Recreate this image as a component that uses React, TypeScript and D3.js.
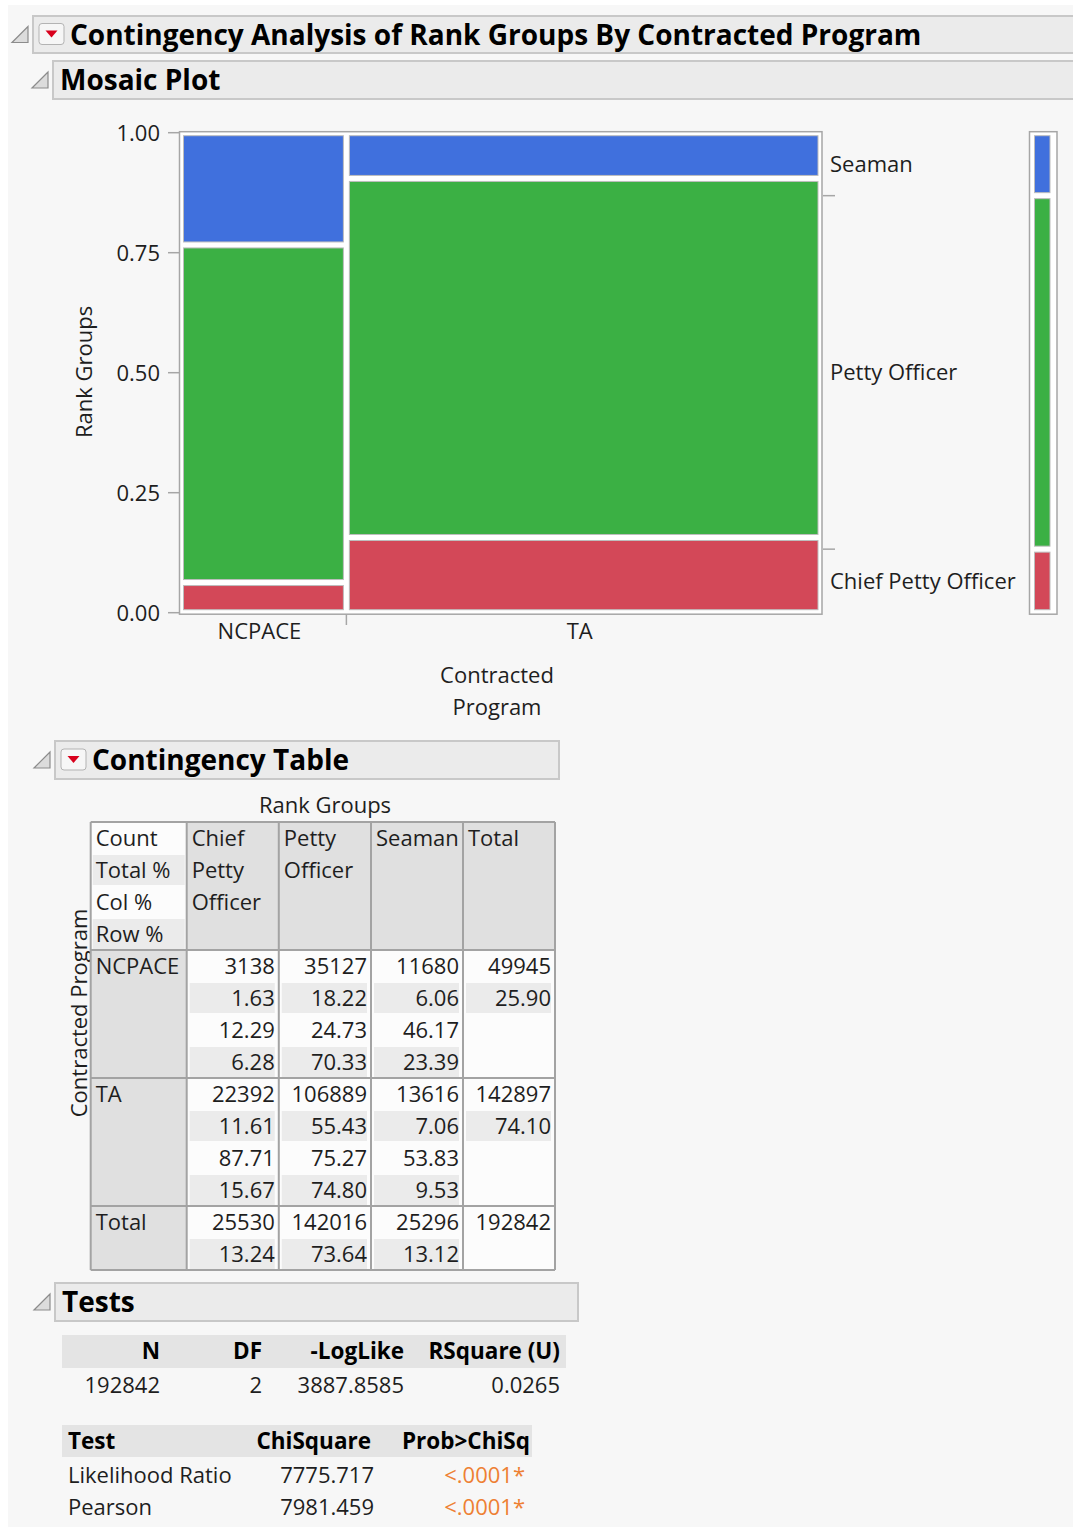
import React, { useRef, useEffect } from "react";
import * as d3 from "d3";

const programs = ["NCPACE", "TA"];
const rankGroups = ["Chief Petty Officer", "Petty Officer", "Seaman"];
const ncpaceCounts = [3138, 35127, 11680];
const taCounts = [22392, 106889, 13616];
const rankTotals = [25530, 142016, 25296];
const programTotals = [49945, 142897];
const grandTotal = 192842;
const yTicks = [0, 0.25, 0.5, 0.75, 1];
const rankColors = ["#d34858", "#3bb044", "#4070dd"];

const statLabels = ["Count", "Total %", "Col %", "Row %"];
const colHeads = [["Chief", "Petty", "Officer"], ["Petty", "Officer"], ["Seaman"], ["Total"]];
const ncpaceTotalPct = ["1.63", "18.22", "6.06", "25.90"];
const ncpaceColPct = ["12.29", "24.73", "46.17", ""];
const ncpaceRowPct = ["6.28", "70.33", "23.39", ""];
const taTotalPct = ["11.61", "55.43", "7.06", "74.10"];
const taColPct = ["87.71", "75.27", "53.83", ""];
const taRowPct = ["15.67", "74.80", "9.53", ""];
const totalRowPct = ["13.24", "73.64", "13.12", ""];

const testHeads = ["N", "DF", "-LogLike", "RSquare (U)"];
const testValues = ["192842", "2", "3887.8585", "0.0265"];
const chiHeads = ["Test", "ChiSquare", "Prob>ChiSq"];
const chiTests = ["Likelihood Ratio", "Pearson"];
const chiSquare = ["7775.717", "7981.459"];
const chiProb = ["<.0001*", "<.0001*"];

const FONT = "'Open Sans', 'Noto Sans', sans-serif";
const TXT = "#1e1e1e";
const BODY = 22;
const HEAD = 28;
const BOLD = 22.5;

const App: React.FC = () => {
  const svgRef = useRef<SVGSVGElement | null>(null);

  const drawChart = () => {
    if (!svgRef.current) return;
    d3.select(svgRef.current).selectAll("*").remove();

    const root = d3.select(svgRef.current).append("g");
    root.append("rect").attr("width", 1073).attr("height", 1529).attr("fill", "#ffffff");
    root.append("rect").attr("x", 8).attr("y", 5).attr("width", 1065).attr("height", 1522).attr("fill", "#f7f7f7");

    const text = (g: any, x: number, y: number, s: string, opts: any = {}) =>
      g.append("text")
        .attr("x", x)
        .attr("y", y + (opts.size || BODY) * 0.36)
        .attr("font-family", FONT)
        .attr("font-size", opts.size || BODY)
        .attr("font-weight", opts.bold ? "bold" : "normal")
        .attr("text-anchor", opts.anchor || "start")
        .attr("fill", opts.fill || TXT)
        .text(s);

    // outline header with disclosure triangle
    const header = (x0: number, x1: number, y0: number, y1: number, title: string, button: boolean) => {
      const g = root.append("g");
      const yc = (y0 + y1) / 2;
      g.append("rect").attr("x", x0).attr("y", y0).attr("width", x1 - x0).attr("height", y1 - y0)
        .attr("fill", "#ebebeb").attr("stroke", "#c8c8c8").attr("stroke-width", 2);
      g.append("path")
        .attr("d", `M${x0 - 5},${yc - 8}L${x0 - 5},${yc + 8}L${x0 - 21},${yc + 8}Z`)
        .attr("fill", "#dcdcdc").attr("stroke", "#8c8c8c").attr("stroke-width", 1.2);
      let tx = x0 + 7;
      if (button) {
        g.append("rect").attr("x", x0 + 6).attr("y", yc - 11).attr("width", 25).attr("height", 21).attr("rx", 3)
          .attr("fill", "#f6f6f6").attr("stroke", "#b3b3b3");
        const bx = x0 + 18.5;
        g.append("path").attr("d", `M${bx - 6},${yc - 4}L${bx + 6},${yc - 4}L${bx},${yc + 3}Z`).attr("fill", "#d8001c");
        tx = x0 + 37;
      }
      text(g, tx, yc, title, { size: HEAD, bold: true, fill: "#000" });
    };

    header(33, 1080, 16, 53, "Contingency Analysis of Rank Groups By Contracted Program", true);
    header(53, 1080, 61, 99, "Mosaic Plot", false);

    // ---------- mosaic plot ----------
    const plot = root.append("g");
    const y = d3.scaleLinear().domain([0, 1]).range([612.7, 132.7]);
    const x = d3.scaleLinear().domain([0, grandTotal]).range([180.5, 821]);
    const fmt = d3.format(".2f");

    plot.append("rect").attr("x", 179.5).attr("y", 131.7).attr("width", 642.5).attr("height", 482.5)
      .attr("fill", "#ffffff").attr("stroke", "#a6a6a6").attr("stroke-width", 1.5);

    const counts = [ncpaceCounts, taCounts];
    let cumProg = 0;
    counts.forEach((row, i) => {
      const x0 = x(cumProg);
      const x1 = x(cumProg + programTotals[i]);
      let cum = 0;
      row.forEach((c, j) => {
        const f0 = cum / programTotals[i];
        cum += c;
        const f1 = cum / programTotals[i];
        plot.append("rect")
          .attr("x", x0 + 3).attr("width", x1 - x0 - 6)
          .attr("y", y(f1) + 3).attr("height", y(f0) - y(f1) - 6)
          .attr("fill", rankColors[j]).attr("stroke", "#bdbdbd").attr("stroke-width", 1);
      });
      text(plot, (x0 + x1) / 2 - 4, 631, programs[i], { anchor: "middle" });
      cumProg += programTotals[i];
      if (i < counts.length - 1) {
        plot.append("line").attr("x1", x1).attr("x2", x1).attr("y1", 614).attr("y2", 625)
          .attr("stroke", "#a6a6a6").attr("stroke-width", 1.5);
      }
    });

    yTicks.forEach((t) => {
      plot.append("line").attr("x1", 168).attr("x2", 179).attr("y1", y(t)).attr("y2", y(t))
        .attr("stroke", "#a6a6a6").attr("stroke-width", 1.5);
      text(plot, 160, y(t), fmt(t), { anchor: "end" });
    });

    plot.append("text")
      .attr("transform", "translate(92,372) rotate(-90)")
      .attr("text-anchor", "middle").attr("font-family", FONT).attr("font-size", BODY).attr("fill", TXT)
      .text("Rank Groups");
    text(plot, 497, 675, "Contracted", { anchor: "middle" });
    text(plot, 497, 707, "Program", { anchor: "middle" });

    // marginal bar and rank labels
    plot.append("rect").attr("x", 1029.5).attr("y", 131.7).attr("width", 27.5).attr("height", 482.5)
      .attr("fill", "#ffffff").attr("stroke", "#a6a6a6").attr("stroke-width", 1.5);
    let cumRank = 0;
    rankTotals.forEach((c, j) => {
      const f0 = cumRank / grandTotal;
      cumRank += c;
      const f1 = cumRank / grandTotal;
      plot.append("rect").attr("x", 1034.5).attr("width", 15.5)
        .attr("y", y(f1) + 3).attr("height", y(f0) - y(f1) - 6)
        .attr("fill", rankColors[j]).attr("stroke", "#bdbdbd").attr("stroke-width", 1);
      text(plot, 830, y((f0 + f1) / 2), rankGroups[j]);
      if (j > 0) {
        plot.append("line").attr("x1", 823).attr("x2", 835).attr("y1", y(f0)).attr("y2", y(f0))
          .attr("stroke", "#a6a6a6").attr("stroke-width", 1.5);
      }
    });

    // ---------- contingency table ----------
    header(55, 559, 741, 779, "Contingency Table", true);
    const tbl = root.append("g");
    text(tbl, 325, 805, "Rank Groups", { anchor: "middle" });
    tbl.append("text")
      .attr("transform", "translate(87,1013) rotate(-90)")
      .attr("text-anchor", "middle").attr("font-family", FONT).attr("font-size", BODY).attr("fill", TXT)
      .text("Contracted Program");

    const cols = [90.7, 186.7, 278.8, 371, 463, 555];
    const LINE = 32;
    const blocks = [
      { label: "NCPACE", lines: [ncpaceCounts.concat([programTotals[0]]).map(String), ncpaceTotalPct, ncpaceColPct, ncpaceRowPct] },
      { label: "TA", lines: [taCounts.concat([programTotals[1]]).map(String), taTotalPct, taColPct, taRowPct] },
      { label: "Total", lines: [rankTotals.concat([grandTotal]).map(String), totalRowPct] },
    ];
    const top = 822;
    const headH = statLabels.length * LINE;

    // header row
    tbl.append("rect").attr("x", cols[0]).attr("y", top).attr("width", cols[1] - cols[0]).attr("height", headH).attr("fill", "#fcfcfc");
    statLabels.forEach((s, k) => {
      const cy = top + 16 + k * LINE;
      if (k % 2 === 1) {
        tbl.append("rect").attr("x", cols[0] + 2).attr("y", cy - 15).attr("width", cols[1] - cols[0] - 4).attr("height", 30).attr("fill", "#ebebeb");
      }
      text(tbl, cols[0] + 5, cy, s);
    });
    colHeads.forEach((h, c) => {
      tbl.append("rect").attr("x", cols[c + 1]).attr("y", top).attr("width", cols[c + 2] - cols[c + 1]).attr("height", headH).attr("fill", "#e0e0e0");
      h.forEach((s, k) => text(tbl, cols[c + 1] + 5, top + 16 + k * LINE, s));
    });

    let by = top + headH;
    const rules: number[] = [top, by];
    blocks.forEach((b) => {
      const h = b.lines.length * LINE;
      tbl.append("rect").attr("x", cols[0]).attr("y", by).attr("width", cols[1] - cols[0]).attr("height", h).attr("fill", "#e0e0e0");
      tbl.append("rect").attr("x", cols[1]).attr("y", by).attr("width", cols[5] - cols[1]).attr("height", h).attr("fill", "#fcfcfc");
      text(tbl, cols[0] + 5, by + 16, b.label);
      b.lines.forEach((vals, k) => {
        const cy = by + 16 + k * LINE;
        vals.forEach((v, c) => {
          if (v === "") return;
          if (k % 2 === 1) {
            tbl.append("rect").attr("x", cols[c + 1] + 3).attr("y", cy - 15).attr("width", cols[c + 2] - cols[c + 1] - 7).attr("height", 30).attr("fill", "#ebebeb");
          }
          text(tbl, cols[c + 2] - 4, cy, v, { anchor: "end" });
        });
      });
      by += h;
      rules.push(by);
    });
    rules.forEach((ry) => {
      tbl.append("line").attr("x1", cols[0]).attr("x2", cols[5]).attr("y1", ry).attr("y2", ry).attr("stroke", "#a3a3a3").attr("stroke-width", 2);
    });
    cols.forEach((cx) => {
      tbl.append("line").attr("x1", cx).attr("x2", cx).attr("y1", top).attr("y2", by).attr("stroke", "#a3a3a3").attr("stroke-width", 2);
    });

    // ---------- tests ----------
    header(55, 578, 1283, 1321, "Tests", false);
    const tst = root.append("g");
    const testRight = [160, 262, 404, 560];
    tst.append("rect").attr("x", 62).attr("y", 1335).attr("width", 504).attr("height", 33).attr("fill", "#e4e4e4");
    testHeads.forEach((s, i) => text(tst, testRight[i], 1351, s, { anchor: "end", bold: true, fill: "#000", size: BOLD }));
    testValues.forEach((s, i) => text(tst, testRight[i], 1385, s, { anchor: "end" }));

    tst.append("rect").attr("x", 62).attr("y", 1425).attr("width", 470).attr("height", 32).attr("fill", "#e4e4e4");
    text(tst, 68, 1441, chiHeads[0], { bold: true, fill: "#000", size: BOLD });
    text(tst, 371, 1441, chiHeads[1], { anchor: "end", bold: true, fill: "#000", size: BOLD });
    text(tst, 530, 1441, chiHeads[2], { anchor: "end", bold: true, fill: "#000", size: BOLD });
    chiTests.forEach((s, i) => {
      const cy = 1475 + i * 32;
      text(tst, 68, cy, s);
      text(tst, 374, cy, chiSquare[i], { anchor: "end" });
      text(tst, 525, cy, chiProb[i], { anchor: "end", fill: "#ee8033" });
    });
  };

  useEffect(() => {
    document.body.style.margin = "0";
    drawChart();
  }, []);

  return <svg ref={svgRef} width={1073} height={1529} style={{ display: "block" }}></svg>;
};

export default App;
